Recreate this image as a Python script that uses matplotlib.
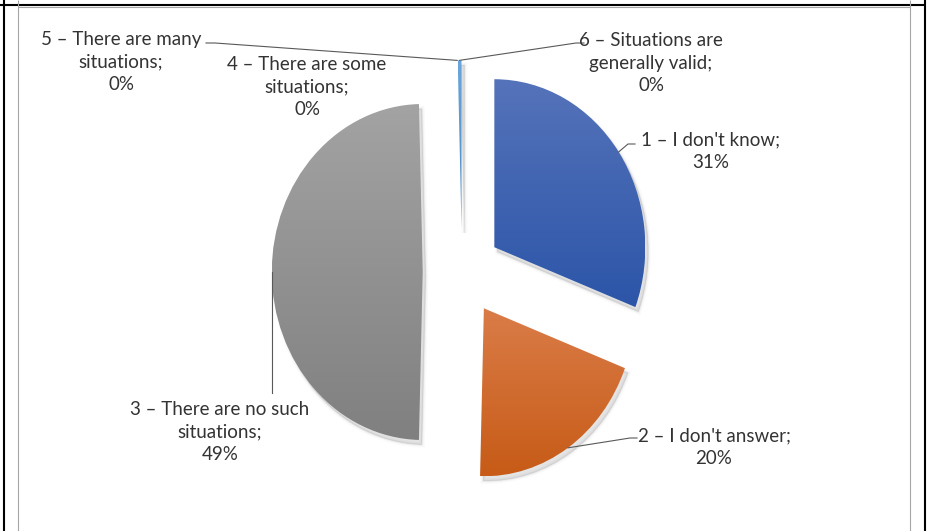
import numpy as np
import matplotlib.pyplot as plt
from matplotlib.colors import LinearSegmentedColormap
from matplotlib.patches import Wedge

# answers to the question, in pie order (clockwise from 12 o'clock)
categories = ["1 – I don't know",
              "2 – I don't answer",
              "3 – There are no such\nsituations",
              "4 – There are some\nsituations",
              "5 – There are many\nsituations",
              "6 – Situations are\ngenerally valid"]
shares = [30.8, 19.6, 49.2, 0.0, 0.0, 0.4]

# top / bottom colours of the per-slice gradient
fills = [("#5573ba", "#2c55a8"),
         ("#da7c48", "#c75b17"),
         ("#a3a3a3", "#808080"),
         ("#f2c200", "#bf9000"),
         ("#5b9bd5", "#4a86c0"),
         ("#6aa6dc", "#4a88c2")]

# label block centres (px) and leader elbows
label_pos = [(711, 151), (714, 447), (220, 432), (307, 87), (121, 62), (651, 63)]
leaders = [[(635, 144), (628, 144)],
           [(637, 438), (630, 438)],
           None,
           None,
           [(206, 43), (215, 43)],
           [(584, 43), (576, 43)]]

W, H = 930, 531
cx, cy = 462, 272      # pie centre in px
rx, ry = 151, 168      # the chart is squeezed horizontally

fig = plt.figure(figsize=(W / 100, H / 100), dpi=100)
fig.patch.set_facecolor("white")

ax = fig.add_axes([0, 0, 1, 1])
wedges, _ = ax.pie(shares, startangle=90, counterclock=False,
                   explode=[0.26] * len(shares),
                   wedgeprops=dict(linewidth=0))
ax.set_aspect("auto")
ax.axis("off")

grad = np.linspace(0, 1, 256).reshape(-1, 1)
for w, v, (top, bot) in zip(wedges, shares, fills):
    if v <= 0:
        continue
    # soft drop shadow, mostly down and to the right
    for lw, a in [(4, 0.02), (2, 0.035), (0.8, 0.05)]:
        sh = Wedge((w.center[0] + 0.02, w.center[1] - 0.028), w.r, w.theta1, w.theta2,
                   facecolor=(0, 0, 0, a), edgecolor=(0, 0, 0, a), linewidth=lw, zorder=0.5)
        ax.add_patch(sh)
    ext = w.get_path().get_extents()
    cmap = LinearSegmentedColormap.from_list("", [top, bot])
    im = ax.imshow(grad, cmap=cmap, aspect="auto", interpolation="bicubic",
                   extent=(ext.x0, ext.x1, ext.y0, ext.y1), zorder=2)
    im.set_clip_path(w)
    w.set_facecolor("none")

ax.set_xlim(-cx / rx, (W - cx) / rx)
ax.set_ylim((cy - H) / ry, cy / ry)


def to_px(x, y):
    return cx + x * rx, cy - y * ry


# overlay in pixel coordinates for frame, labels and leader lines
ov = fig.add_axes([0, 0, 1, 1])
ov.set_xlim(0, W)
ov.set_ylim(H, 0)
ov.axis("off")

black = dict(color="black", lw=1.5, solid_capstyle="butt")
grey = dict(color="#a6a6a6", lw=0.8, solid_capstyle="butt")
ov.plot([0, 926], [5, 5], **black)
ov.plot([4, 4], [0, H], **black)
ov.plot([925, 925], [0, H], **black)
ov.plot([18, 18], [0, H], **grey)
ov.plot([910, 910], [0, H], **grey)
ov.plot([18, 910], [6.7, 6.7], **grey)

for w, cat, v, pos, ld in zip(wedges, categories, shares, label_pos, leaders):
    ov.text(pos[0], pos[1], f"{cat};\n{v:.0f}%", ha="center", va="center",
            fontsize=13.5, color="#333333", linespacing=1.42,
            family=["Lato", "DejaVu Sans"])
    mid = np.deg2rad((w.theta1 + w.theta2) / 2)
    tip = to_px(w.center[0] + w.r * np.cos(mid), w.center[1] + w.r * np.sin(mid))
    if ld is not None:
        pts = ld + [tip]
    elif cat.startswith("3"):
        pts = [tip, (tip[0], 393)]
    else:
        continue
    ov.plot([p[0] for p in pts], [p[1] for p in pts], color="#595959", lw=0.8)

fig.savefig("out.png", dpi=100)
